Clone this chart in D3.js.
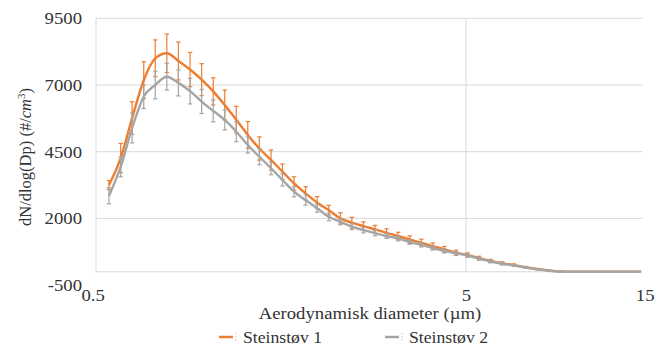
<!DOCTYPE html>
<html><head><meta charset="utf-8">
<script src="https://cdn.jsdelivr.net/npm/d3@7"></script>
<style>
body{margin:0;background:#fff}
svg{display:block}
text{font-family:"Liberation Serif","Times New Roman",serif;fill:#333}
</style>
</head><body>
<svg id="c" width="665" height="345"></svg>
<script>
const diameters = [0.542, 0.583, 0.626, 0.673, 0.723, 0.777, 0.835, 0.898, 0.965, 1.037,
  1.114, 1.197, 1.286, 1.382, 1.486, 1.596, 1.715, 1.843, 1.981, 2.129,
  2.288, 2.458, 2.642, 2.839, 3.051, 3.278, 3.523, 3.786, 4.068, 4.371,
  4.698, 5.048, 5.425, 5.829, 6.264, 6.732, 7.234, 7.774, 8.354, 8.977,
  9.647, 10.37, 11.14, 11.97, 12.86, 13.82, 14.86];
const steinstov1 = [3250, 4260, 5760, 7180, 8000, 8190, 7900, 7580, 7200, 6760,
  6250, 5700, 5130, 4620, 4190, 3750, 3310, 2940, 2590, 2310,
  2000, 1840, 1710, 1590, 1460, 1340, 1210, 1090, 960, 840,
  710, 630, 510, 405, 320, 255, 170, 105, 50, 12,
  0, 0, 0, 0, 0, 0, 0];
const steinstov1Err = [170, 550, 610, 690, 690, 720, 710, 640, 600, 510,
  560, 500, 500, 435, 375, 290, 250, 250, 225, 180,
  210, 200, 160, 150, 150, 140, 140, 130, 120, 110,
  100, 80, 70, 60, 50, 40, 30, 20, 10, 0,
  0, 0, 0, 0, 0, 0, 0];
const steinstov2 = [2850, 3930, 5390, 6560, 7000, 7310, 7080, 6770, 6380, 6030,
  5690, 5250, 4750, 4310, 3880, 3440, 3000, 2690, 2380, 2060,
  1870, 1690, 1560, 1450, 1340, 1250, 1110, 1010, 890, 780,
  690, 610, 490, 390, 300, 240, 160, 95, 40, 8,
  0, 0, 0, 0, 0, 0, 0];
const steinstov2Err = [300, 375, 560, 440, 520, 500, 490, 480, 450, 410,
  375, 375, 300, 300, 245, 225, 190, 190, 150, 150,
  110, 110, 100, 100, 90, 90, 80, 80, 75, 75,
  70, 60, 55, 50, 40, 30, 20, 15, 10, 0,
  0, 0, 0, 0, 0, 0, 0];
const yTicks = [-500, 2000, 4500, 7000, 9500];
const xTicks = [0.5, 5, 15];
const seriesNames = ["Steinstøv 1", "Steinstøv 2"];
const colors = ["#ED7D31", "#A5A5A5"];

const FS = 17, SX = 1.1;
const svg = d3.select("#c");
const x = d3.scaleLog().domain([0.5, 15]).range([96, 642.5]);
const y = d3.scaleLinear().domain([-500, 9500]).range([285.1, 18.3]);
const grid = "#d9d9d9";

// horizontal gridlines
svg.append("g").selectAll("line").data(yTicks.filter(t => t > 0)).join("line")
  .attr("x1", x(0.5)).attr("x2", x(15))
  .attr("y1", d => y(d)).attr("y2", d => y(d))
  .attr("stroke", grid).attr("stroke-width", 1);
// vertical gridlines (log major units)
svg.append("g").selectAll("line").data([0.5, 5]).join("line")
  .attr("x1", d => x(d)).attr("x2", d => x(d))
  .attr("y1", y(9500)).attr("y2", y(0) + 1)
  .attr("stroke", grid).attr("stroke-width", 1);
// horizontal axis crossing at 0
svg.append("line").attr("x1", x(0.5)).attr("x2", x(15))
  .attr("y1", y(0)).attr("y2", y(0)).attr("stroke", grid).attr("stroke-width", 1.2);

// axes labels
const yAxis = svg.append("g").attr("transform", "translate(82,0)")
  .call(d3.axisLeft(y).tickValues(yTicks).tickSize(0).tickPadding(0).tickFormat(d => String(d)));
yAxis.select(".domain").remove();
yAxis.selectAll("text").attr("font-size", FS).attr("fill", "#333")
  .style("font-family", '"Liberation Serif", serif')
  .attr("transform", `scale(${SX},1)`);

const xAxis = svg.append("g").attr("transform", "translate(0,289)")
  .call(d3.axisBottom(x).tickValues(xTicks).tickSize(0).tickPadding(0).tickFormat(d => String(d)));
xAxis.select(".domain").remove();
xAxis.selectAll("text").attr("font-size", FS).attr("fill", "#333")
  .style("font-family", '"Liberation Serif", serif')
  .attr("dx", d => d === 0.5 ? -3 : (d === 15 ? 2 : 0))
  .attr("transform", `scale(${SX},1)`);

// series
const values = [steinstov1, steinstov2];
const errs = [steinstov1Err, steinstov2Err];
const line = d3.line().x(d => x(d[0])).y(d => y(d[1])).curve(d3.curveMonotoneX);

values.forEach((vals, si) => {
  const pts = diameters.map((dd, i) => [dd, vals[i], errs[si][i]]);
  const g = svg.append("g");
  g.append("path").datum(pts).attr("d", line)
    .attr("fill", "none").attr("stroke", colors[si]).attr("stroke-width", 2.4)
    .attr("stroke-linejoin", "round");
  const eb = g.append("g").attr("stroke", colors[si]).attr("stroke-width", 1.2);
  const withErr = pts.filter(p => p[2] > 0);
  eb.selectAll("line.v").data(withErr).join("line").attr("class", "v")
    .attr("x1", d => x(d[0])).attr("x2", d => x(d[0]))
    .attr("y1", d => y(d[1] - d[2])).attr("y2", d => y(d[1] + d[2]));
  eb.selectAll("line.t").data(withErr).join("line").attr("class", "t")
    .attr("x1", d => x(d[0]) - 2.2).attr("x2", d => x(d[0]) + 2.2)
    .attr("y1", d => y(d[1] + d[2])).attr("y2", d => y(d[1] + d[2]));
  eb.selectAll("line.b").data(withErr).join("line").attr("class", "b")
    .attr("x1", d => x(d[0]) - 2.2).attr("x2", d => x(d[0]) + 2.2)
    .attr("y1", d => y(d[1] - d[2])).attr("y2", d => y(d[1] - d[2]));
});

// axis titles
svg.append("g").attr("transform", `translate(370,319) scale(${SX},1)`)
  .append("text").attr("text-anchor", "middle")
  .attr("font-size", FS).text("Aerodynamisk diameter  (µm)");

const yt = svg.append("text").attr("transform", "translate(31,157) rotate(-90)")
  .attr("text-anchor", "middle").attr("font-size", 16.5);
yt.append("tspan").text("dN/dlog(Dp) (#/");
yt.append("tspan").attr("font-style", "italic").text("cm");
yt.append("tspan").attr("font-size", 11).attr("dy", -6).text("3");
yt.append("tspan").attr("dy", 6).text(")");

// legend
const legX = [219, 385];
seriesNames.forEach((name, i) => {
  const lg = svg.append("g").attr("transform", `translate(${legX[i]},337)`);
  lg.append("line").attr("x1", 0).attr("x2", 14).attr("y1", 0).attr("y2", 0)
    .attr("stroke", colors[i]).attr("stroke-width", 2.5);
  lg.append("line").attr("x1", 17).attr("x2", 17).attr("y1", -4).attr("y2", 4)
    .attr("stroke", "#c8c8c8").attr("stroke-width", 1).attr("stroke-dasharray", "1.5,1.5");
  lg.append("g").attr("transform", `translate(24,5.5) scale(1.04,1)`)
    .append("text").attr("font-size", FS).text(name);
});
</script>
</body></html>
